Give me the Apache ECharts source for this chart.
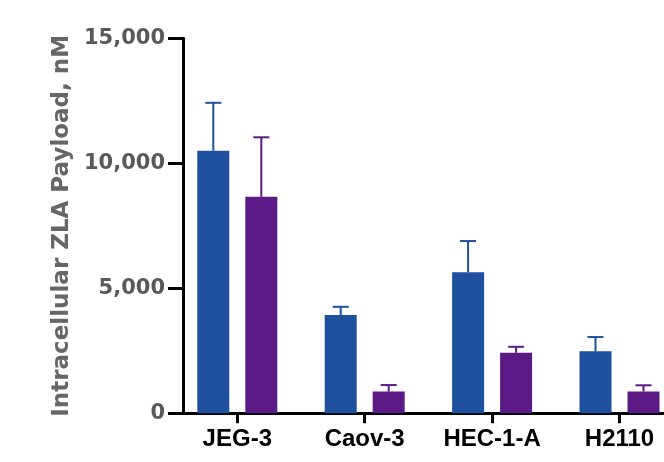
<!DOCTYPE html>
<html>
<head>
<meta charset="utf-8">
<style>
  html, body { margin: 0; padding: 0; background: #fff; }
  #chart { width: 664px; height: 462px; }
</style>
<script src="https://cdn.jsdelivr.net/npm/echarts@6/dist/echarts.min.js"></script>
</head>
<body>
<div id="chart"></div>
<script>
// Cell lines on the category axis
const categories = ['JEG-3', 'Caov-3', 'HEC-1-A', 'H2110'];
// Group 1 (blue): mean and upper error (SD)
const blueMeans = [10500, 3930, 5640, 2480];
const blueErr = [1920, 330, 1250, 570];
// Group 2 (purple): mean and upper error (SD)
const purpleMeans = [8660, 870, 2420, 870];
const purpleErr = [2380, 260, 240, 250];
// Y axis ticks
const yTicks = [0, 5000, 10000, 15000];

const BLUE = '#1e509e';
const PURPLE = '#5c1a87';
const BAR_W = 32;
const BAR_GAP = 0.5;
const FONT = '"DejaVu Sans", sans-serif';
const FONT_CAT = '"Liberation Sans", Arial, sans-serif';

const chart = echarts.init(document.getElementById('chart'));

// Upper error whisker with a cap, shifted onto its bar within the category band
function errorBars(offset, color) {
  return function (params, api) {
    const i = api.value(0);
    const base = api.coord([i, api.value(1)]);
    const cap = api.coord([i, api.value(2)]);
    const x = base[0] + offset;
    return {
      type: 'group',
      children: [
        { type: 'line', shape: { x1: x, y1: base[1], x2: x, y2: cap[1] },
          style: { stroke: color, lineWidth: 2 } },
        { type: 'line', shape: { x1: x - 8, y1: cap[1], x2: x + 8, y2: cap[1] },
          style: { stroke: color, lineWidth: 2 } }
      ]
    };
  };
}

const half = (BAR_W + BAR_W * BAR_GAP) / 2;

chart.setOption({
  animation: false,
  grid: {
    left: 173.6, width: 509.6, top: 38.3, bottom: 48.7,
    containLabel: false, outerBoundsMode: 'none'
  },
  xAxis: {
    type: 'category',
    data: categories,
    boundaryGap: true,
    axisLine: { show: true, lineStyle: { color: '#000', width: 3 } },
    axisTick: { show: true, alignWithLabel: true, interval: 0, inside: false, length: 10,
      lineStyle: { color: '#000', width: 3 } },
    axisLabel: { interval: 0, color: '#000', fontFamily: FONT_CAT, fontWeight: 'bold', fontSize: 24, margin: 14 }
  },
  yAxis: {
    type: 'value',
    min: yTicks[0],
    max: yTicks[yTicks.length - 1],
    interval: yTicks[1] - yTicks[0],
    offset: -9.4,
    splitLine: { show: false },
    axisLine: { show: true, lineStyle: { color: '#000', width: 3 } },
    axisTick: { show: true, length: 15, lineStyle: { color: '#000', width: 3 } },
    axisLabel: {
      color: '#595959', fontFamily: FONT, fontWeight: 'bold', fontSize: 21, margin: 18,
      formatter: v => v.toLocaleString('en-US')
    },
    name: 'Intracellular ZLA Payload, nM',
    nameLocation: 'middle',
    nameGap: 101,
    nameTextStyle: { color: '#666', fontFamily: FONT, fontWeight: 'bold', fontSize: 23 }
  },
  series: [
    {
      type: 'bar', data: blueMeans, barWidth: BAR_W, barGap: (BAR_GAP * 100) + '%',
      itemStyle: { color: BLUE }
    },
    {
      type: 'bar', data: purpleMeans, barWidth: BAR_W,
      itemStyle: { color: PURPLE }
    },
    {
      type: 'custom',
      renderItem: errorBars(-half, BLUE),
      encode: { x: 0, y: [1, 2] },
      data: categories.map((c, i) => [i, blueMeans[i], blueMeans[i] + blueErr[i]]),
      z: 3
    },
    {
      type: 'custom',
      renderItem: errorBars(half, PURPLE),
      encode: { x: 0, y: [1, 2] },
      data: categories.map((c, i) => [i, purpleMeans[i], purpleMeans[i] + purpleErr[i]]),
      z: 3
    }
  ]
});
</script>
</body>
</html>
